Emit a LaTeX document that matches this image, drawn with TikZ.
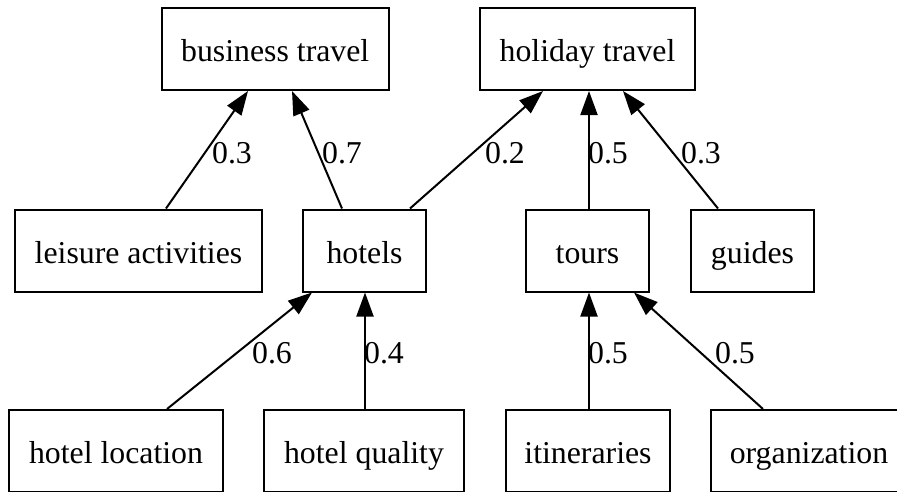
\documentclass[tikz,border=0pt]{standalone}
\usepackage{fontspec}
\setmainfont{Liberation Serif}
\usetikzlibrary{arrows.meta}
\begin{document}
\begin{tikzpicture}[x=1pt,y=-1pt,
  box/.style={draw, line width=2pt, inner sep=0pt, minimum height=82pt, text height=29pt, text depth=4pt, font=\fontsize{31.8}{38}\selectfont},
  lbl/.style={inner sep=0pt, font=\fontsize{31.8}{38}\selectfont},
  edge/.style={line width=2pt, -{Triangle[length=24pt,width=17pt]}}]
\useasboundingbox (0,0) rectangle (897,491);
\begin{scope}
\clip (0,0) rectangle (897,491);
\node[box, minimum width=227.5pt] (bt) at (275.25,49) {business travel};
\node[box, minimum width=215pt] (ht) at (587.5,49) {holiday travel};
\node[box, minimum width=247pt] (la) at (138.5,250.5) {leisure activities};
\node[box, minimum width=123pt] (ho) at (364.5,250.5) {hotels};
\node[box, minimum width=123pt] (to) at (587.5,250.5) {tours};
\node[box, minimum width=123pt] (gu) at (752.5,250.5) {guides};
\node[box, minimum width=214pt] (hl) at (116,451) {hotel location};
\node[box, minimum width=200pt] (hq) at (364,451) {hotel quality};
\node[box, minimum width=164pt] (it) at (588,451) {itineraries};
\node[box, minimum width=196pt] (or) at (809,451) {organization};

\draw[edge] ([xshift=27.5pt]la.north) -- ([xshift=-27.25pt]bt.south);
\draw[edge] ([xshift=-22.5pt]ho.north) -- ([xshift=16.75pt]bt.south);
\draw[edge] ([xshift=45.5pt]ho.north) -- ([xshift=-44.5pt]ht.south);
\draw[edge] ([xshift=1.5pt]to.north) -- ([xshift=1.5pt]ht.south);
\draw[edge] ([xshift=-34.5pt]gu.north) -- ([xshift=35.5pt]ht.south);
\draw[edge] ([xshift=51pt]hl.north) -- ([xshift=-52.5pt]ho.south);
\draw[edge] ([xshift=1pt]hq.north) -- ([xshift=0.5pt]ho.south);
\draw[edge] ([xshift=1pt]it.north) -- ([xshift=1.5pt]to.south);
\draw[edge] ([xshift=-46pt]or.north) -- ([xshift=46.5pt]to.south);

\node[lbl] (l1) at (232,153) {0.3};
\node[lbl] (l2) at (342,153) {0.7};
\node[lbl] (l3) at (505,153) {0.2};
\node[lbl] (l4) at (608,153) {0.5};
\node[lbl] (l5) at (701,153) {0.3};
\node[lbl] (l6) at (272,353) {0.6};
\node[lbl] (l7) at (384,353) {0.4};
\node[lbl] (l8) at (608,353) {0.5};
\node[lbl] (l9) at (735,353) {0.5};
\end{scope}
\end{tikzpicture}
\end{document}
